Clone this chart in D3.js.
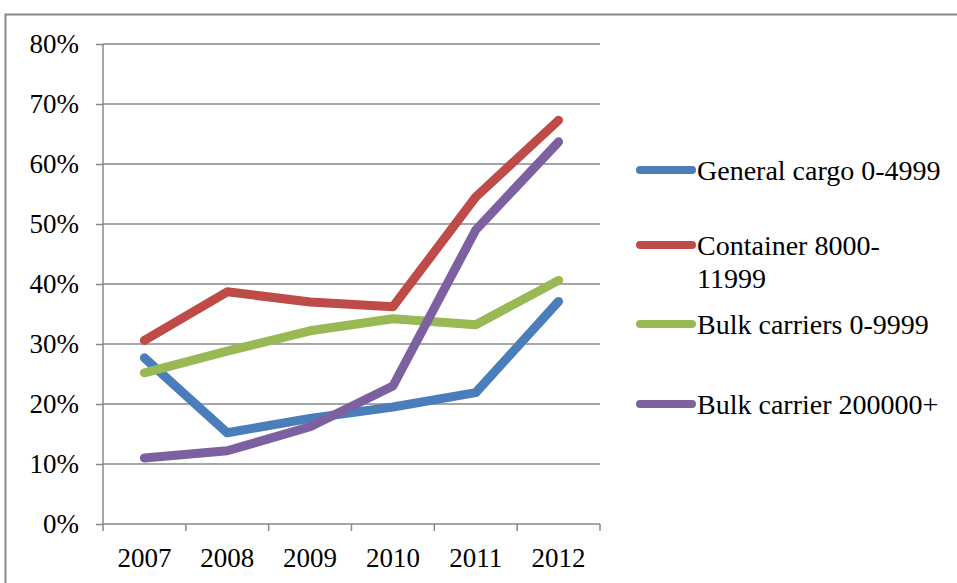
<!DOCTYPE html>
<html><head><meta charset="utf-8">
<script src="https://cdn.jsdelivr.net/npm/d3@7"></script>
<style>body{margin:0;background:#fff}svg{display:block}text{font-family:"Liberation Serif",serif;fill:#000}</style>
</head><body><svg id="c" width="957" height="583"></svg>
<script>
const years = ["2007","2008","2009","2010","2011","2012"];
const seriesNames = ["General cargo 0-4999","Container 8000-\n11999","Bulk carriers 0-9999","Bulk carrier 200000+"];
const generalCargo = [0.277,0.152,0.176,0.195,0.219,0.371];
const container = [0.306,0.387,0.370,0.362,0.545,0.673];
const bulk0 = [0.252,0.288,0.322,0.342,0.332,0.406];
const bulk200k = [0.110,0.122,0.162,0.230,0.490,0.637];
const colors = ["#4a7ebb","#be4b48","#98b954","#7d60a0"];
const yTicks = [0,0.1,0.2,0.3,0.4,0.5,0.6,0.7,0.8];

const svg = d3.select("#c");
svg.append("path").attr("d","M5.5,583 V14.5 H957").attr("fill","none").attr("stroke","#888").attr("stroke-width",2);

const x = d3.scaleBand().domain(years).range([103,600]);
const y = d3.scaleLinear().domain([0,0.8]).range([524,44]);

svg.append("g").selectAll("line").data(yTicks.slice(1)).join("line")
  .attr("x1",103).attr("x2",600).attr("y1",d=>y(d)).attr("y2",d=>y(d))
  .attr("stroke","#888").attr("stroke-width",1.5);

const ya = svg.append("g").attr("transform","translate(103,0)")
  .call(d3.axisLeft(y).tickValues(yTicks).tickFormat(d3.format(".0%")).tickSize(7).tickPadding(17));
const xa = svg.append("g").attr("transform","translate(0,524)")
  .call(d3.axisBottom(x).tickSize(7).tickPadding(17));
xa.selectAll(".tick line").remove();
xa.selectAll("line.bt").data(years.concat(["end"])).join("line").attr("class","bt")
  .attr("x1",(d,i)=>103+i*x.step()).attr("x2",(d,i)=>103+i*x.step()).attr("y1",0).attr("y2",7);
[ya,xa].forEach(a=>{a.selectAll("path.domain").attr("stroke","#888").attr("stroke-width",1.5);
  a.selectAll("line").attr("stroke","#888").attr("stroke-width",1.5);
  a.selectAll("text").style("font-size","27px").style("font-family","Liberation Serif");});
xa.select("path.domain").attr("d","M103,0H600");
ya.select("path.domain").attr("d","M0,524V44");

const data = [generalCargo,container,bulk0,bulk200k];
const line = d3.line().x((d,i)=>x(years[i])+x.bandwidth()/2).y(d=>y(d));
svg.append("g").selectAll("path").data(data).join("path")
  .attr("d",line).attr("fill","none").attr("stroke",(d,i)=>colors[i])
  .attr("stroke-width",9).attr("stroke-linecap","round").attr("stroke-linejoin","round");

const legY = [170,245,324,404];
const lg = svg.append("g").selectAll("g").data(seriesNames).join("g")
  .attr("transform",(d,i)=>`translate(0,${legY[i]})`);
lg.append("line").attr("x1",640).attr("x2",692).attr("y1",0).attr("y2",0)
  .attr("stroke",(d,i)=>colors[i]).attr("stroke-width",8).attr("stroke-linecap","round");
lg.append("text").attr("x",697).attr("y",0).attr("dy","0.35em").style("font-size","28px")
  .selectAll("tspan").data(d=>d.split("\n")).join("tspan").attr("x",697).attr("dy",(d,i)=>i?"1.18em":null).text(d=>d);
</script></body></html>
